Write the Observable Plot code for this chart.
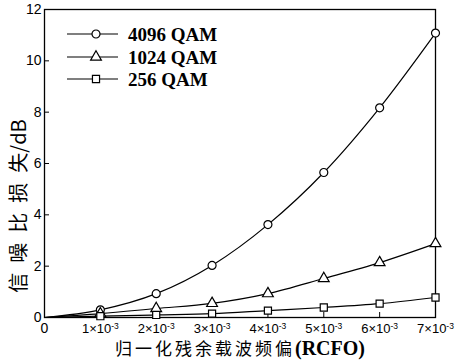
<!DOCTYPE html>
<html>
<head>
<meta charset="utf-8">
<script src="https://cdn.jsdelivr.net/npm/d3@7"></script>
<script src="https://cdn.jsdelivr.net/npm/@observablehq/plot@0.6"></script>
<style>
  html, body { margin: 0; padding: 0; background: #fff; }
  #chart { width: 464px; height: 360px; }
</style>
</head>
<body>
<div id="chart"></div>
<script>
const rcfo = [0, 0.001, 0.002, 0.003, 0.004, 0.005, 0.006, 0.007];
const qam4096 = [0, 0.30, 0.93, 2.03, 3.62, 5.65, 8.17, 11.08];
const qam1024 = [0, 0.15, 0.35, 0.55, 0.93, 1.52, 2.14, 2.88];
const qam256  = [0, 0.05, 0.10, 0.15, 0.27, 0.39, 0.54, 0.78];
const seriesNames = ["4096 QAM", "1024 QAM", "256 QAM"];
const seriesSymbols = ["circle", "triangle", "square"];
const xTicks = [0, 0.001, 0.002, 0.003, 0.004, 0.005, 0.006, 0.007];
const xTickMantissa = ["0", "1", "2", "3", "4", "5", "6", "7"];
const xTickExponent = "-3";
const yTicks = [0, 2, 4, 6, 8, 10, 12];

const seriesValues = [qam4096, qam1024, qam256];
const data = [];
seriesValues.forEach((vals, s) => {
  vals.forEach((v, i) => data.push({x: rcfo[i], y: v, series: seriesNames[s], symbol: seriesSymbols[s]}));
});
const markerData = data.filter(d => d.x > 0);

const sans = "'Liberation Sans', Arial, sans-serif";

const chart = Plot.plot({
  width: 464,
  height: 360,
  marginLeft: 44,
  marginRight: 29,
  marginTop: 9,
  marginBottom: 43,
  style: {fontFamily: sans, fontSize: "14px", color: "#000", background: "#fff"},
  x: {domain: [0, 0.007]},
  y: {domain: [0, 12]},
  symbol: {domain: seriesSymbols, range: seriesSymbols},
  marks: [
    Plot.frame({stroke: "#000", strokeWidth: 1.3}),
    Plot.axisX({ticks: xTicks, tickFormat: (d, i) => xTickMantissa[i], tickSize: -5, tickPadding: 11, label: null, fontSize: 13}),
    Plot.axisY({ticks: yTicks, tickSize: -5, tickPadding: 8, label: null, fontSize: 14}),
    Plot.line(data, {x: "x", y: "y", z: "series", stroke: "#000", strokeWidth: 1.2, curve: "monotone-x"}),
    Plot.dot(markerData, {x: "x", y: "y", symbol: "symbol", r: 4, fill: "#fff", stroke: "#000", strokeWidth: 1.2})
  ]
});

const svg = d3.select(chart);

// rebuild x tick labels as "n×10^-3" with a real superscript
svg.selectAll('g[aria-label="x-axis tick label"] text').each(function(d, i) {
  const t = d3.select(this);
  const m = t.text();
  if (m === "0") { t.attr("font-size", 14); return; }
  t.text("");
  t.append("tspan").text(m + "×10");
  t.append("tspan").attr("dy", "-0.45em").attr("font-size", 8.5).text(xTickExponent);
});

// axis titles
const xl = svg.append("text")
  .attr("x", 240).attr("y", 355)
  .attr("text-anchor", "middle")
  .attr("fill", "#000");
xl.append("tspan").attr("font-family", "'Noto Sans CJK SC', sans-serif").attr("font-size", 17)
  .attr("letter-spacing", 3).text("归一化残余载波频偏");
xl.append("tspan").attr("font-family", "'Liberation Serif', 'Times New Roman', serif")
  .attr("font-weight", "bold").attr("font-size", 20).text("(RCFO)");

const yl = svg.append("text")
  .attr("transform", "translate(26,206) rotate(-90)")
  .attr("text-anchor", "middle")
  .attr("fill", "#000");
yl.append("tspan").attr("font-family", "'Noto Sans CJK SC', sans-serif").attr("font-size", 20)
  .attr("letter-spacing", 10).text("信噪比损");
yl.append("tspan").attr("font-family", "'Noto Sans CJK SC', sans-serif").attr("font-size", 20)
  .text("失/dB");

// legend
const legendRows = [34, 57, 79];
const symGen = {circle: d3.symbolCircle, triangle: d3.symbolTriangle, square: d3.symbolSquare};
seriesNames.forEach((name, i) => {
  const y = legendRows[i];
  const g = svg.append("g");
  g.append("line").attr("x1", 67).attr("x2", 118).attr("y1", y).attr("y2", y)
    .attr("stroke", "#000").attr("stroke-width", 1.2);
  const area = Math.PI * 16;
  g.append("path").attr("d", d3.symbol(symGen[seriesSymbols[i]], area)())
    .attr("transform", `translate(96,${y})`)
    .attr("fill", "#fff").attr("stroke", "#000").attr("stroke-width", 1.2);
  g.append("text").attr("x", 128).attr("y", y).attr("dy", "0.35em")
    .attr("text-anchor", "start")
    .attr("font-family", "'Liberation Serif', 'Times New Roman', serif")
    .attr("font-weight", "bold").attr("font-size", 19).attr("fill", "#000")
    .text(name);
});

document.getElementById("chart").appendChild(chart);
</script>
</body>
</html>
